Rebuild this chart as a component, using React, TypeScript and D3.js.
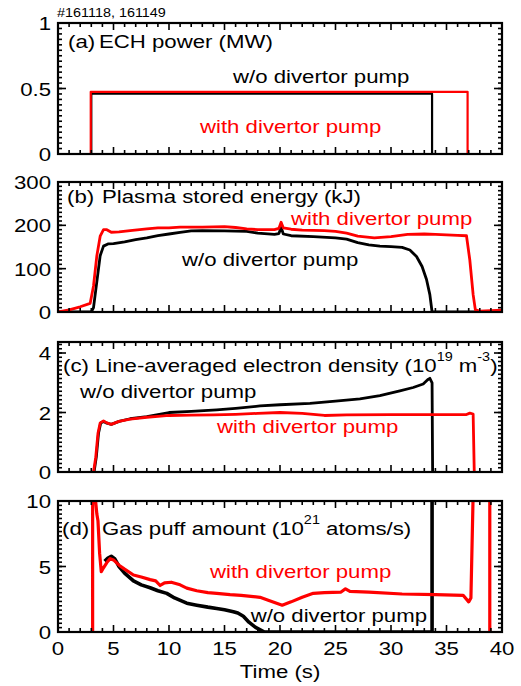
import React from 'react';
import * as d3 from 'd3';

// ---------- data ----------
const timeMajor = [0, 5, 10, 15, 20, 25, 30, 35, 40];
const timeLabels = ['0', '5', '10', '15', '20', '25', '30', '35', '40'];

// (a) ECH power (MW)
const echTimeWith = [0, 2.95, 2.95, 36.9, 36.9, 40];
const echPowerWith = [0, 0, 0.475, 0.475, 0, 0];
const echTimeWithout = [0, 3.0, 3.0, 33.7, 33.7, 40];
const echPowerWithout = [0, 0, 0.46, 0.46, 0, 0];
const yTicksA = [0, 0.5, 1];
const yLabelsA = ['0', '0.5', '1'];

// (b) Plasma stored energy (kJ)
const wpTimeWith = [0, 1, 2, 2.9, 3.2, 3.5, 3.8, 4.1, 4.4, 4.8, 5.5, 6.5, 8, 9, 10, 11, 13, 15, 16, 17, 18, 19.5, 19.9, 20.1, 20.3, 21, 22, 24, 25, 26, 27, 28.5, 30, 31.5, 33, 34, 36, 36.8, 37.1, 37.4, 37.6, 38, 40];
const wpWith = [0, 5, 12, 20, 60, 130, 175, 190, 190, 184, 185, 188, 192, 194, 194, 196, 196, 197, 195, 192, 190, 190, 193, 207, 194, 191, 189, 188, 186, 182, 175, 171, 174, 179, 180, 179, 177, 176, 120, 40, 5, 2, 4];
const wpTimeWithout = [0, 3.0, 3.2, 3.5, 3.8, 4.1, 4.5, 5, 6, 7, 8, 9, 10, 11, 12, 13, 15, 17, 18, 19.5, 19.9, 20.1, 20.3, 21, 23, 25, 26, 27, 28, 29, 30, 31, 31.7, 32.3, 32.8, 33.2, 33.5, 33.7, 40];
const wpWithout = [0, 0, 10, 70, 130, 152, 157, 158, 162, 167, 171, 176, 180, 184, 187, 188, 187, 186, 182, 179, 181, 195, 180, 176, 174, 171, 168, 160, 155, 152, 151, 149, 143, 128, 105, 75, 40, 0, 0];
const yTicksB = [0, 100, 200, 300];
const yLabelsB = ['0', '100', '200', '300'];

// (c) Line-averaged electron density (1e19 m^-3)
const neTimeWith = [3.2, 3.4, 3.6, 3.8, 4.1, 4.4, 4.8, 5.5, 6.5, 8, 9, 10, 12, 14, 16, 18, 20, 22, 24, 26, 30, 34, 36.8, 37.1, 37.4, 37.5];
const neWith = [0, 0.5, 1.3, 1.65, 1.72, 1.65, 1.6, 1.7, 1.78, 1.84, 1.87, 1.9, 1.91, 1.92, 1.94, 1.97, 2.0, 1.97, 1.9, 1.92, 1.93, 1.93, 1.93, 1.98, 1.95, 0];
const neTimeWithout = [3.25, 3.45, 3.65, 3.85, 4.1, 4.4, 4.8, 5.5, 6.5, 8, 9, 10, 12, 14.3, 16, 18.2, 20, 22.7, 25, 27.2, 29, 30.8, 32, 32.9, 33.3, 33.5, 33.7, 33.75];
const neWithout = [0, 0.5, 1.3, 1.65, 1.7, 1.64, 1.6, 1.7, 1.79, 1.86, 1.93, 2.0, 2.04, 2.09, 2.14, 2.22, 2.26, 2.31, 2.38, 2.46, 2.57, 2.73, 2.84, 2.96, 3.1, 3.15, 3.0, 0];
const yTicksC = [0, 2, 4];
const yLabelsC = ['0', '2', '4'];

// (d) Gas puff amount (1e21 atoms/s) — null breaks separate segments
const gasTimeWith = [3.12, 3.12, NaN, 3.33, 3.5, 3.6, 3.75, 3.9, 4.1, 4.4, 4.7, 5.0, 5.5, 6, 6.8, 7.5, 8.3, 8.8, 9.2, 9.6, 10.2, 11, 11.6, 12.5, 13.5, 14.3, 15.5, 16.5, 17.6, 18.2, 19, 20.2, 21, 22, 23, 24, 25.5, 25.9, 26.3, 28, 31, 34, 36.5, 37, 37.2, 37.4, NaN, 38.9, 38.9];
const gasWith = [0, 10.5, null, 10.5, 9, 8.5, 6, 4.6, 4.9, 5.3, 5.6, 5.5, 5.1, 4.8, 4.35, 4.2, 4.0, 3.9, 3.55, 3.75, 3.8, 3.6, 3.35, 3.15, 3.0, 2.95, 2.85, 2.8, 2.7, 2.65, 2.4, 2.05, 2.3, 2.65, 2.95, 3.0, 3.05, 3.3, 3.1, 3.05, 2.9, 2.85, 2.8, 2.3, 2.6, 10.5, null, 0, 10.5];
const gasTimeWithout = [4.2, 4.5, 4.8, 5.1, 5.5, 6, 6.8, 7.5, 8.3, 9, 9.8, 10.5, 11.6, 12.5, 13.5, 14.3, 15, 15.8, 16.2, 16.7, 17.2, 17.8, 18.6, 33.6, NaN, 33.7, 33.7];
const gasWithout = [5.4, 5.65, 5.78, 5.6, 5.0, 4.5, 3.9, 3.6, 3.38, 3.15, 2.95, 2.6, 2.2, 2.05, 1.9, 1.8, 1.7, 1.55, 1.45, 1.2, 0.75, 0.35, 0, 0, null, 0, 10.5];
const yTicksD = [0, 5, 10];
const yLabelsD = ['0', '5', '10'];

// ---------- layout / style ----------
const W = 521;
const H = 686;
const LEFT = 58;
const RIGHT = 502;
const SX = 1.2;
const FS = 18.5;
const FONT = "'Liberation Sans', Arial, Helvetica, sans-serif";
const RED = '#ff0000';
const BLACK = '#000000';

const x = d3.scaleLinear().domain([0, 40]).range([LEFT, RIGHT]);

type TProps = { x: number; y: number; anchor?: string; fill?: string; size?: number; children: React.ReactNode };
function T({ x, y, anchor = 'start', fill = BLACK, size = FS, children }: TProps) {
  return (
    <text transform={`translate(${x},${y}) scale(${SX},1)`} textAnchor={anchor} fontSize={size} fill={fill} fontFamily={FONT}>
      {children}
    </text>
  );
}

type Series = { t: number[]; v: (number | null)[]; color: string; width: number };
type PanelProps = {
  id: string;
  top: number;
  bottom: number;
  domain: [number, number];
  yTicks: number[];
  yLabels: string[];
  minorN: number;
  series: Series[];
  showXLabels?: boolean;
};

function Panel({ id, top, bottom, domain, yTicks, yLabels, minorN, series }: PanelProps) {
  const y = d3.scaleLinear().domain(domain).range([bottom, top]);
  const majorStep = yTicks[1] - yTicks[0];
  const minorStep = majorStep / minorN;
  const yMinor = d3.range(domain[0], domain[1] + 1e-9, minorStep);
  const xMinor = d3.range(0, 40.001, 1);
  const tickW = 1.6;
  return (
    <g>
      <defs>
        <clipPath id={`clip-${id}`}>
          <rect x={LEFT} y={top} width={RIGHT - LEFT} height={bottom - top} />
        </clipPath>
      </defs>
      <g clipPath={`url(#clip-${id})`}>
        {series.map((s, k) => {
          const idx = d3.range(s.t.length);
          const line = d3
            .line<number>()
            .defined((i) => s.v[i] != null && !Number.isNaN(s.t[i]))
            .x((i) => x(s.t[i]))
            .y((i) => y(s.v[i] as number));
          return (
            <path key={k} d={line(idx) || ''} fill="none" stroke={s.color} strokeWidth={s.width} strokeLinejoin="round" strokeLinecap="butt" />
          );
        })}
      </g>
      {/* x ticks (bottom & top) */}
      {xMinor.map((t) => {
        const major = t % 5 === 0;
        const len = major ? 7 : 4;
        return (
          <g key={`xt${t}`} stroke={BLACK} strokeWidth={tickW}>
            <line x1={x(t)} x2={x(t)} y1={bottom} y2={bottom - len} />
            <line x1={x(t)} x2={x(t)} y1={top} y2={top + len} />
          </g>
        );
      })}
      {/* y ticks (left & right) */}
      {yMinor.map((v, i) => (
        <g key={`ym${i}`} stroke={BLACK} strokeWidth={tickW}>
          <line x1={LEFT} x2={LEFT + 4} y1={y(v)} y2={y(v)} />
          <line x1={RIGHT} x2={RIGHT - 4} y1={y(v)} y2={y(v)} />
        </g>
      ))}
      {yTicks.map((v, i) => (
        <g key={`yM${i}`} stroke={BLACK} strokeWidth={tickW}>
          <line x1={LEFT} x2={LEFT + 8} y1={y(v)} y2={y(v)} />
          <line x1={RIGHT} x2={RIGHT - 8} y1={y(v)} y2={y(v)} />
        </g>
      ))}
      <rect x={LEFT} y={top} width={RIGHT - LEFT} height={bottom - top} fill="none" stroke={BLACK} strokeWidth={2.2} />
      {yTicks.map((v, i) => (
        <T key={`yl${i}`} x={51} y={y(v) + 7} anchor="end">
          {yLabels[i]}
        </T>
      ))}
    </g>
  );
}

export default function App() {
  return (
    <svg width={W} height={H} viewBox={`0 0 ${W} ${H}`} style={{ position: 'absolute', left: 0, top: 0, background: '#fff' }}>
      <rect x={0} y={0} width={W} height={H} fill="#fff" />
      <T x={57} y={17} size={12}>#161118, 161149</T>

      {/* (a) */}
      <Panel
        id="a"
        top={23}
        bottom={154}
        domain={[0, 1]}
        yTicks={yTicksA}
        yLabels={yLabelsA}
        minorN={12}
        series={[
          { t: echTimeWithout, v: echPowerWithout, color: BLACK, width: 2.2 },
          { t: echTimeWith, v: echPowerWith, color: RED, width: 2.2 },
        ]}
      />
      <T x={68} y={48}>(a)</T>
      <T x={99} y={48}>ECH power (MW)</T>
      <T x={233} y={83}>w/o divertor pump</T>
      <T x={200} y={133} fill={RED}>with divertor pump</T>

      {/* (b) */}
      <Panel
        id="b"
        top={182}
        bottom={312}
        domain={[0, 300]}
        yTicks={yTicksB}
        yLabels={yLabelsB}
        minorN={10}
        series={[
          { t: wpTimeWithout, v: wpWithout, color: BLACK, width: 2.8 },
          { t: wpTimeWith, v: wpWith, color: RED, width: 2.8 },
        ]}
      />
      <T x={67} y={203}>(b)</T>
      <T x={102} y={203}>Plasma stored energy (kJ)</T>
      <T x={291} y={225} fill={RED}>with divertor pump</T>
      <T x={182} y={266}>w/o divertor pump</T>

      {/* (c) */}
      <Panel
        id="c"
        top={342}
        bottom={472}
        domain={[0, 4.37]}
        yTicks={yTicksC}
        yLabels={yLabelsC}
        minorN={14}
        series={[
          { t: neTimeWithout, v: neWithout, color: BLACK, width: 2.8 },
          { t: neTimeWith, v: neWith, color: RED, width: 2.8 },
        ]}
      />
      <T x={63} y={372}>(c)</T>
      <T x={95} y={372}>
        <tspan>Line-averaged electron density (10</tspan>
        <tspan dy={-11} fontSize={12}>19</tspan>
        <tspan dy={11}> m</tspan>
        <tspan dy={-11} fontSize={12}>-3</tspan>
        <tspan dy={11}>)</tspan>
      </T>
      <T x={80} y={398}>w/o divertor pump</T>
      <T x={217} y={433} fill={RED}>with divertor pump</T>

      {/* (d) */}
      <Panel
        id="d"
        top={501}
        bottom={632}
        domain={[0, 10]}
        yTicks={yTicksD}
        yLabels={yLabelsD}
        minorN={15}
        series={[
          { t: gasTimeWithout, v: gasWithout, color: BLACK, width: 3.6 },
          { t: gasTimeWith, v: gasWith, color: RED, width: 3.2 },
        ]}
      />
      <T x={62} y={535}>(d)</T>
      <T x={102} y={535}>
        <tspan>Gas puff amount (10</tspan>
        <tspan dy={-11} fontSize={12}>21</tspan>
        <tspan dy={11}> atoms/s)</tspan>
      </T>
      <T x={210} y={578} fill={RED}>with divertor pump</T>
      <T x={427} y={622} anchor="end">w/o divertor pump</T>

      {/* x axis labels */}
      {timeMajor.map((t, i) => (
        <T key={`xl${i}`} x={x(t)} y={655} anchor="middle">
          {timeLabels[i]}
        </T>
      ))}
      <T x={280} y={678} anchor="middle">Time (s)</T>
    </svg>
  );
}
